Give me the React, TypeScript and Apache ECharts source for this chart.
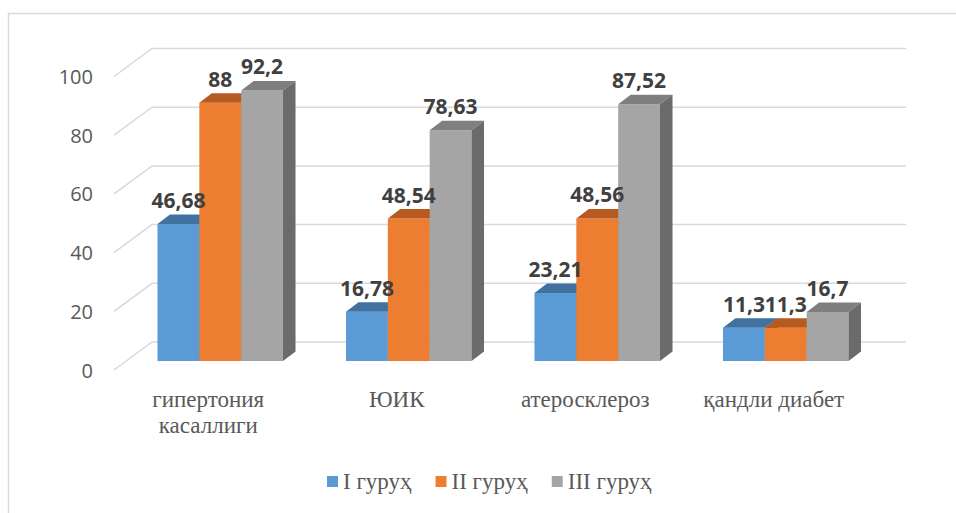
import React, { useEffect, useRef } from "react";
import * as echarts from "echarts";

const categories = ["гипертония\nкасаллиги", "ЮИК", "атеросклероз", "қандли диабет"];
const groupNames = ["I гуруҳ", "II гуруҳ", "III гуруҳ"];
const group1 = [46.68, 16.78, 23.21, 11.3];
const group2 = [88, 48.54, 48.56, 11.3];
const group3 = [92.2, 78.63, 87.52, 16.7];
const yTicks = [0, 20, 40, 60, 80, 100];

const groups = [group1, group2, group3];
const frontColors = ["#5B9BD5", "#ED7D31", "#A5A5A5"];
const topColors = ["#41729F", "#B65A20", "#7F7F7F"];
const sideColors = ["#3F6E9A", "#A85320", "#6B6B6B"];

const WALL_DX = 38;
const WALL_DY = -28;
const BAR_OX = 12;
const BAR_OY = -9;
const BAR_DX = 12.5;
const BAR_DY = -9.5;
const BAR_FRAC = 0.222;

function fmt(v: number) {
  return String(v).replace(".", ",");
}

function barGeom(api: any, i: number) {
  const cat = api.value(0);
  const v = api.value(1);
  const top = api.coord([cat, v]);
  const base = api.coord([cat, 0]);
  const catW = api.size([1, 0])[0];
  const bw = catW * BAR_FRAC;
  const x0 = top[0] + (i - 1.5) * bw + BAR_OX;
  const yTop = top[1] + BAR_OY;
  const yBot = base[1] + BAR_OY;
  return { x0, yTop, yBot, bw, v };
}

export default function App() {
  const ref = useRef<HTMLDivElement>(null);
  useEffect(() => {
    if (!ref.current) return;
    const chart = echarts.init(ref.current, null, { renderer: "svg" });

    const barSeries = groups.map((g, i) => ({
      type: "custom",
      name: groupNames[i],
      z: 3,
      itemStyle: { color: frontColors[i] },
      encode: { x: 0, y: 1 },
      data: g.map((v, c) => [c, v]),
      renderItem: (params: any, api: any) => {
        const { x0, yTop, yBot, bw } = barGeom(api, i);
        return {
          type: "group",
          children: [
            {
              type: "rect",
              shape: { x: x0, y: yTop, width: bw, height: yBot - yTop },
              style: { fill: frontColors[i] },
            },
            {
              type: "polygon",
              shape: {
                points: [
                  [x0, yTop],
                  [x0 + bw, yTop],
                  [x0 + bw + BAR_DX, yTop + BAR_DY],
                  [x0 + BAR_DX, yTop + BAR_DY],
                ],
              },
              style: { fill: topColors[i] },
            },
            {
              type: "polygon",
              shape: {
                points: [
                  [x0 + bw, yTop],
                  [x0 + bw + BAR_DX, yTop + BAR_DY],
                  [x0 + bw + BAR_DX, yBot + BAR_DY],
                  [x0 + bw, yBot],
                ],
              },
              style: { fill: sideColors[i] },
            },
          ],
        };
      },
    }));

    const labelSeries = groups.map((g, i) => ({
      type: "custom",
      name: "lbl" + i,
      z: 10,
      silent: true,
      encode: { x: 0, y: 1 },
      data: g.map((v, c) => [c, v]),
      renderItem: (params: any, api: any) => {
        const { x0, yTop, bw, v } = barGeom(api, i);
        return {
          type: "text",
          x: x0 + bw / 2,
          y: yTop - 24,
          style: {
            text: fmt(v),
            fill: "#404040",
            fontSize: 21,
            fontWeight: "bold",
            fontFamily: "Open Sans",
            align: "center",
            verticalAlign: "middle",
          },
        };
      },
    }));

    const wallSeries = {
      type: "custom",
      name: "wall",
      z: 1,
      silent: true,
      encode: { x: 0, y: 1 },
      data: yTicks.map((t) => [0, t]),
      renderItem: (params: any, api: any) => {
        const cs = params.coordSys;
        const y = api.coord([0, api.value(1)])[1];
        return {
          type: "polyline",
          shape: {
            points: [
              [cs.x, y],
              [cs.x + WALL_DX, y + WALL_DY],
              [cs.x + cs.width + WALL_DX, y + WALL_DY],
            ],
          },
          style: { stroke: "#D9D9D9", lineWidth: 1.5, fill: "none" },
        };
      },
    };

    chart.setOption({
      animation: false,
      backgroundColor: "#ffffff",
      graphic: [
        {
          type: "rect",
          shape: { x: 8.5, y: 13.5, width: 1000, height: 600 },
          style: { fill: "none", stroke: "#D9D9D9", lineWidth: 1.5 },
          silent: true,
        },
      ],
      grid: {
        left: 114,
        right: 88,
        top: 76.5,
        bottom: 143,
        outerBoundsMode: "none",
      },
      legend: {
        data: groupNames,
        top: 470,
        left: 327,
        padding: 0,
        icon: "rect",
        itemWidth: 11,
        itemHeight: 11,
        itemGap: 24,
        textStyle: { fontFamily: "Liberation Serif", fontSize: 23, color: "#595959" },
      },
      xAxis: {
        type: "category",
        data: categories,
        axisLine: { show: false },
        axisTick: { show: false },
        splitLine: { show: false },
        axisLabel: {
          interval: 0,
          margin: 16,
          color: "#595959",
          fontFamily: "Liberation Serif",
          fontSize: 23,
          lineHeight: 26,
        },
      },
      yAxis: {
        type: "value",
        min: 0,
        max: 100,
        interval: 20,
        axisLine: { show: false },
        axisTick: { show: false },
        splitLine: { show: false },
        axisLabel: {
          margin: 21,
          color: "#595959",
          fontFamily: "Open Sans",
          fontSize: 20,
        },
      },
      series: [wallSeries, ...barSeries, ...labelSeries],
    });
    return () => chart.dispose();
  }, []);
  return (
    <div
      ref={ref}
      style={{ position: "fixed", left: 0, top: 0, width: 956, height: 513 }}
    />
  );
}
